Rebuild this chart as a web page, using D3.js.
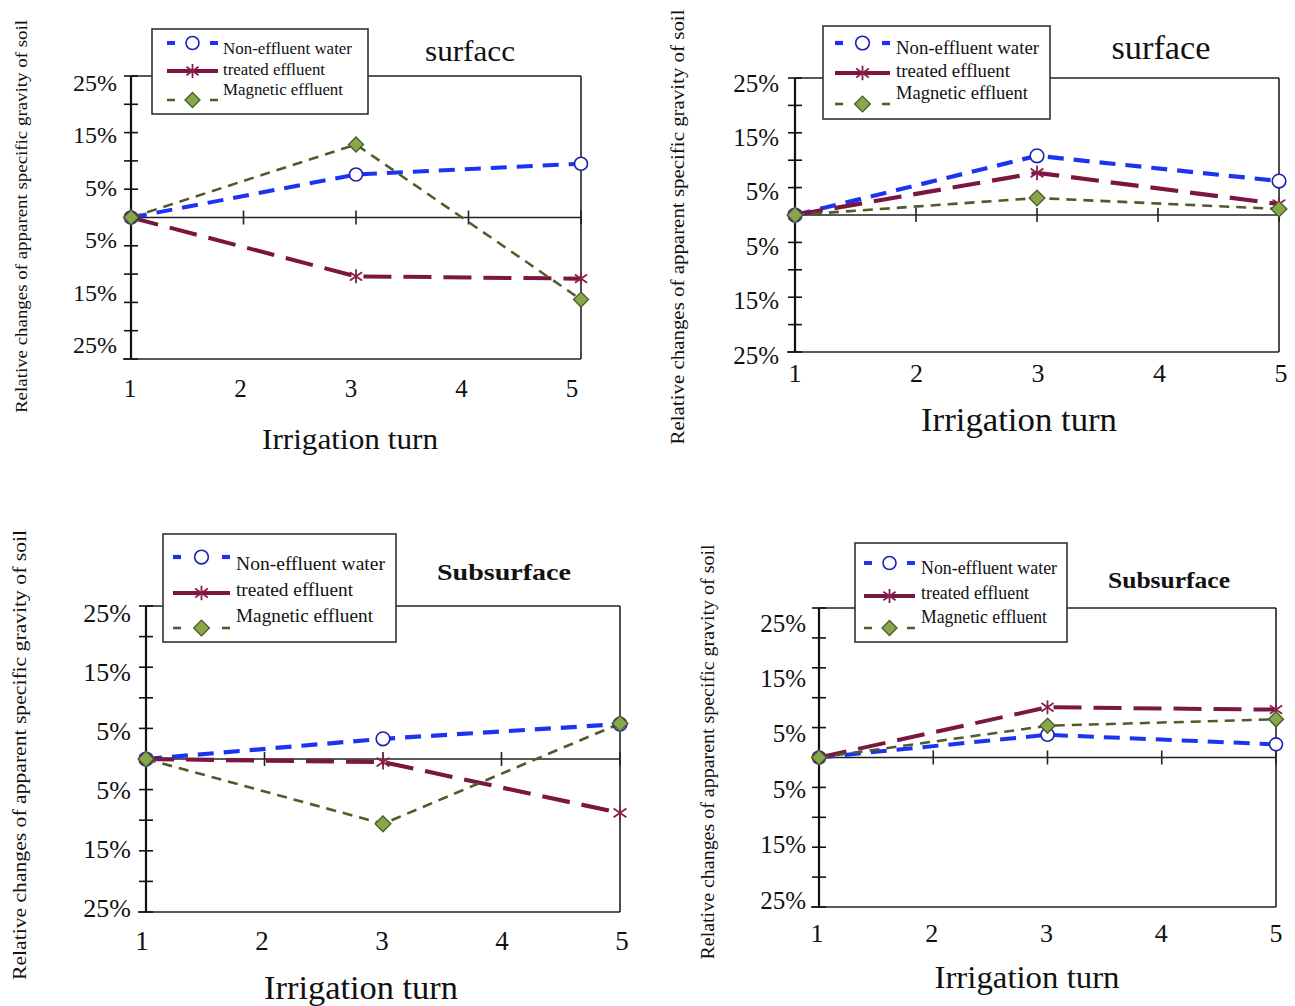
<!DOCTYPE html>
<html>
<head>
<meta charset="utf-8">
<script src="https://cdn.jsdelivr.net/npm/d3@7"></script>
<style>
  html, body { margin: 0; padding: 0; background: #fff; }
  svg { display: block; }
  text { font-family: "Liberation Serif", "Times New Roman", serif; fill: #111; }
</style>
</head>
<body>
<svg id="chart" width="1295" height="1006"></svg>
<script>
// ---------------- data ----------------
const turns = [1, 3, 5];
const xTickValues = [1, 2, 3, 4, 5];
const xTickLabels = ["1", "2", "3", "4", "5"];
const yTickValues = [25, 20, 15, 10, 5, 0, -5, -10, -15, -20, -25];
const yLabelValues = [25, 15, 5, -5, -15, -25];
const yTickLabels = ["25%", "15%", "5%", "5%", "15%", "25%"];
const seriesNames = ["Non-effluent water", "treated effluent", "Magnetic effluent"];
const panelTitles = ["surfacc", "surface", "Subsurface", "Subsurface"];
const xAxisTitle = "Irrigation turn";
const yAxisTitle = "Relative changes of apparent specific gravity of soil";

// panel 1 (top-left, surface)
const p1NonEffluent = [0, 7.6, 9.5];
const p1Treated     = [0, -10.4, -10.8];
const p1Magnetic    = [0, 12.9, -14.5];
// panel 2 (top-right, surface)
const p2NonEffluent = [0, 10.8, 6.2];
const p2Treated     = [0, 7.7, 2.0];
const p2Magnetic    = [0, 3.1, 1.1];
// panel 3 (bottom-left, subsurface)
const p3NonEffluent = [0, 3.3, 5.7];
const p3Treated     = [0, -0.5, -8.8];
const p3Magnetic    = [0, -10.6, 5.8];
// panel 4 (bottom-right, subsurface)
const p4NonEffluent = [0, 3.8, 2.2];
const p4Treated     = [0, 8.4, 8.0];
const p4Magnetic    = [0, 5.3, 6.4];

// ---------------- layout / style ----------------
const panels = [
  { series: [p1NonEffluent, p1Treated, p1Magnetic], title: panelTitles[0], bold: false,
    L: 131, R: 581, T: 76, B: 359,
    yLab: [83, 345], yLabX: 117, yLabFont: 24,
    xLab: [130, 572], xLabY: 388, xLabFont: 25,
    xTitle: [350, 438], xTitleFont: 30, xTitleLen: 176,
    titleXY: [470, 50], titleFont: 30, titleLen: 90,
    legend: { box: [152, 29, 368, 114], tx: 223, ty: [48.7, 69.7, 89.7], sx: [167, 218], sy: [43, 71, 100], font: 17, lens: [129, 102, 120] },
    yTitle: [21, 216.5], yTitleFont: 17, yTitleLen: 393, k: 1 },
  { series: [p2NonEffluent, p2Treated, p2Magnetic], title: panelTitles[1], bold: false,
    L: 795, R: 1279, T: 78, B: 352,
    yLab: [83, 355], yLabX: 779, yLabFont: 25,
    xLab: [795, 1281], xLabY: 373, xLabFont: 26,
    xTitle: [1019, 420], xTitleFont: 33, xTitleLen: 196,
    titleXY: [1161, 48], titleFont: 33, titleLen: 99,
    legend: { box: [823, 26, 1050, 119], tx: 896, ty: [48, 71, 93], sx: [835, 890], sy: [43, 73, 104], font: 18, lens: [143, 114, 132] },
    yTitle: [677, 227], yTitleFont: 19, yTitleLen: 435, k: 1.05 },
  { series: [p3NonEffluent, p3Treated, p3Magnetic], title: panelTitles[2], bold: true,
    L: 146, R: 620, T: 606, B: 912,
    yLab: [613, 908], yLabX: 131, yLabFont: 26,
    xLab: [142, 622], xLabY: 941, xLabFont: 27,
    xTitle: [361, 988], xTitleFont: 33, xTitleLen: 194,
    titleXY: [504, 572], titleFont: 24, titleLen: 134,
    legend: { box: [163, 534, 396, 642], tx: 236, ty: [563, 589, 615], sx: [173, 230], sy: [557, 593, 628], font: 19, lens: [149, 117, 137] },
    yTitle: [19, 755], yTitleFont: 19, yTitleLen: 450, k: 1.05 },
  { series: [p4NonEffluent, p4Treated, p4Magnetic], title: panelTitles[3], bold: true,
    L: 819, R: 1276, T: 608, B: 907,
    yLab: [623, 900], yLabX: 806, yLabFont: 25,
    xLab: [817, 1276], xLabY: 933, xLabFont: 26,
    xTitle: [1027, 977], xTitleFont: 32, xTitleLen: 185,
    titleXY: [1169, 580], titleFont: 23, titleLen: 122,
    legend: { box: [855, 543, 1067, 642], tx: 921, ty: [568, 593, 617], sx: [864, 915], sy: [563, 596, 628], font: 18, lens: [136, 108, 126] },
    yTitle: [708, 752], yTitleFont: 18, yTitleLen: 415, k: 1.0 }
];

const styles = [
  { color: "#1c34f2", width: 4, dash: "16,10", marker: "circle" },
  { color: "#7a1640", width: 4, dash: "28,12", marker: "asterisk" },
  { color: "#4f5b2b", width: 2.5, dash: "10,7", marker: "diamond" }
];

const svg = d3.select("#chart");

function addText(g, x, y, str, size, opts = {}) {
  const t = g.append("text")
    .attr("x", x).attr("y", y)
    .attr("font-size", size)
    .attr("text-anchor", opts.anchor || "middle")
    .attr("dominant-baseline", "central")
    .attr("font-weight", opts.weight || "normal")
    .text(str);
  if (opts.len) t.attr("textLength", opts.len).attr("lengthAdjust", "spacingAndGlyphs");
  if (opts.rotate) t.attr("transform", `rotate(-90,${x},${y})`);
  return t;
}

function drawMarker(g, type, cx, cy, k) {
  if (type === "circle") {
    g.append("circle").attr("cx", cx).attr("cy", cy).attr("r", 6.5 * k)
      .attr("fill", "#fff").attr("stroke", "#1e22b0").attr("stroke-width", 1.6);
  } else if (type === "asterisk") {
    const a = 7 * k, b = a * 0.87, c = a * 0.6;
    g.append("path")
      .attr("d", `M${cx},${cy - a}L${cx},${cy + a}M${cx - b},${cy - c}L${cx + b},${cy + c}M${cx - b},${cy + c}L${cx + b},${cy - c}`)
      .attr("stroke", "#8a1f4c").attr("stroke-width", 1.8).attr("fill", "none");
  } else {
    const a = 7.5 * k;
    g.append("path")
      .attr("d", `M${cx},${cy - a}L${cx + a},${cy}L${cx},${cy + a}L${cx - a},${cy}Z`)
      .attr("fill", "#86a84a").attr("stroke", "#4a5a22").attr("stroke-width", 1.3);
  }
}

panels.forEach(p => {
  const g = svg.append("g");
  const x = d3.scaleLinear().domain([1, 5]).range([p.L, p.R]);
  const y = d3.scaleLinear().domain([-25, 25]).range([p.B, p.T]);
  const yLabScale = d3.scaleLinear().domain([25, -25]).range(p.yLab);
  const xLabScale = d3.scaleLinear().domain([1, 5]).range(p.xLab);

  // frame
  g.append("line").attr("x1", p.L).attr("x2", p.R).attr("y1", p.T).attr("y2", p.T)
    .attr("stroke", "#222").attr("stroke-width", 1.6);
  g.append("line").attr("x1", p.R).attr("x2", p.R).attr("y1", p.T).attr("y2", p.B)
    .attr("stroke", "#222").attr("stroke-width", 1.6);
  g.append("line").attr("x1", p.L - 8).attr("x2", p.R).attr("y1", p.B).attr("y2", p.B)
    .attr("stroke", "#222").attr("stroke-width", 1.6);
  g.append("line").attr("x1", p.L).attr("x2", p.L).attr("y1", p.T).attr("y2", p.B)
    .attr("stroke", "#111").attr("stroke-width", 2.2);

  // y ticks (crossing)
  g.selectAll(".yt").data(yTickValues).enter().append("line")
    .attr("x1", p.L - 7).attr("x2", p.L + 7)
    .attr("y1", d => y(d)).attr("y2", d => y(d))
    .attr("stroke", "#111").attr("stroke-width", 1.6);

  // zero line + x ticks
  g.append("line").attr("x1", p.L).attr("x2", p.R).attr("y1", y(0)).attr("y2", y(0))
    .attr("stroke", "#222").attr("stroke-width", 1.5);
  g.selectAll(".xt").data(xTickValues.slice(1)).enter().append("line")
    .attr("x1", d => x(d)).attr("x2", d => x(d))
    .attr("y1", y(0) - 7).attr("y2", y(0) + 7)
    .attr("stroke", "#222").attr("stroke-width", 1.6);

  // y tick labels
  yLabelValues.forEach((v, i) => {
    addText(g, p.yLabX, yLabScale(v), yTickLabels[i], p.yLabFont, { anchor: "end" });
  });
  // x tick labels
  xTickValues.forEach((v, i) => {
    addText(g, xLabScale(v), p.xLabY, xTickLabels[i], p.xLabFont);
  });

  // axis titles
  addText(g, p.xTitle[0], p.xTitle[1], xAxisTitle, p.xTitleFont, { len: p.xTitleLen });
  addText(g, p.yTitle[0], p.yTitle[1], yAxisTitle, p.yTitleFont, { len: p.yTitleLen, rotate: true });

  // panel title
  addText(g, p.titleXY[0], p.titleXY[1], p.title, p.titleFont,
    { len: p.titleLen, weight: p.bold ? "bold" : "normal" });

  // series lines
  const line = d3.line().x(d => x(d[0])).y(d => y(d[1]));
  p.series.forEach((vals, si) => {
    const st = styles[si];
    g.append("path").datum(d3.zip(turns, vals))
      .attr("d", line)
      .attr("fill", "none")
      .attr("stroke", st.color)
      .attr("stroke-width", st.width * p.k)
      .attr("stroke-dasharray", st.dash);
  });
  // markers
  p.series.forEach((vals, si) => {
    const st = styles[si];
    d3.zip(turns, vals).forEach(d => drawMarker(g, st.marker, x(d[0]), y(d[1]), p.k));
  });

  // legend
  const lg = p.legend;
  g.append("rect")
    .attr("x", lg.box[0]).attr("y", lg.box[1])
    .attr("width", lg.box[2] - lg.box[0]).attr("height", lg.box[3] - lg.box[1])
    .attr("fill", "#fff").attr("stroke", "#333").attr("stroke-width", 1.6);
  seriesNames.forEach((name, si) => {
    const st = styles[si];
    const sy = lg.sy[si], x0 = lg.sx[0], x1 = lg.sx[1], mx = (x0 + x1) / 2;
    if (st.marker === "asterisk") {
      g.append("line").attr("x1", x0).attr("x2", x1).attr("y1", sy).attr("y2", sy)
        .attr("stroke", st.color).attr("stroke-width", st.width * p.k);
    } else {
      [[x0, x0 + 8], [x1 - 8, x1]].forEach(s => {
        g.append("line").attr("x1", s[0]).attr("x2", s[1]).attr("y1", sy).attr("y2", sy)
          .attr("stroke", st.color).attr("stroke-width", st.width * p.k);
      });
    }
    drawMarker(g, st.marker, mx, sy, p.k);
    addText(g, lg.tx, lg.ty[si], name, lg.font, { anchor: "start", len: lg.lens[si] });
  });
});
</script>
</body>
</html>
